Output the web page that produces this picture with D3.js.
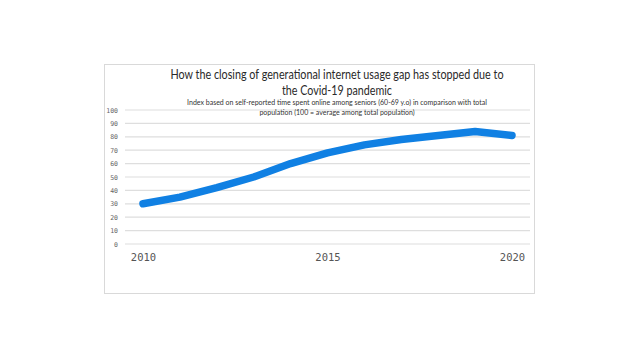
<!DOCTYPE html>
<html><head><meta charset="utf-8">
<script src="https://cdn.jsdelivr.net/npm/d3@7/dist/d3.min.js"></script>
<style>html,body{margin:0;padding:0;background:#fff;}svg{display:block;}</style>
</head><body>
<svg id="c" width="640" height="360"></svg>
<script>
const years = [2010,2011,2012,2013,2014,2015,2016,2017,2018,2019,2020];
const values = [30,35,42,50,60,68,74,78,81,84,81];
const yTicks = [0,10,20,30,40,50,60,70,80,90,100];
const xTicks = [2010,2015,2020];
const titleLines = ["How the closing of generational internet usage gap has stopped due to","the Covid-19 pandemic"];
const subtitleLines = ["Index based on self-reported time spent online among seniors (60-69 y.o) in comparison with total","population (100 = average among total population)"];

const svg = d3.select("#c");
svg.append("rect").attr("x",104.5).attr("y",64.5).attr("width",430).attr("height",229)
  .attr("fill","#fff").attr("stroke","#d9d9d9").attr("stroke-width",1);

const x = d3.scaleLinear().domain([2010,2020]).range([143,512]);
const y = d3.scaleLinear().domain([0,100]).range([244,110]);

const gy = svg.append("g");
gy.selectAll("line").data(yTicks).join("line")
  .attr("x1",125).attr("x2",530)
  .attr("y1",d=>y(d)).attr("y2",d=>y(d))
  .attr("stroke","#dedede").attr("stroke-width",1.2);

const yAxis = d3.axisLeft(y).tickValues(yTicks).tickSize(0).tickPadding(0);
const ya = svg.append("g").attr("transform","translate(118,0)").call(yAxis);
ya.select(".domain").remove();
ya.selectAll("text").attr("font-family","DejaVu Sans Mono").attr("font-size",6.5).attr("fill","#666");

const xAxis = d3.axisBottom(x).tickValues(xTicks).tickFormat(d3.format("d")).tickSize(0).tickPadding(0);
const xa = svg.append("g").attr("transform","translate(0,254)").call(xAxis);
xa.select(".domain").remove();
xa.selectAll("text").attr("font-family","DejaVu Sans Mono").attr("font-size",10.5).attr("fill","#555");

const line = d3.line().x((d,i)=>x(years[i])).y(d=>y(d)).curve(d3.curveLinear);
svg.append("path").datum(values).attr("d",line)
  .attr("fill","none").attr("stroke","#1080e3").attr("stroke-width",7.5)
  .attr("stroke-linecap","round").attr("stroke-linejoin","round");

const tl = [333, 110];
svg.append("g").selectAll("text").data(titleLines).join("text")
  .attr("x",337).attr("y",(d,i)=>79+i*16).attr("text-anchor","middle")
  .attr("font-family","Lato").attr("font-size",13).attr("fill","#2a2a2a")
  .attr("textLength",(d,i)=>tl[i]).attr("lengthAdjust","spacingAndGlyphs").text(d=>d);
svg.append("g").selectAll("text").data(subtitleLines).join("text")
  .attr("x",337).attr("y",(d,i)=>105+i*10).attr("text-anchor","middle")
  .attr("font-family","Lato").attr("font-size",7).attr("fill","#333").text(d=>d);
</script>
</body></html>
